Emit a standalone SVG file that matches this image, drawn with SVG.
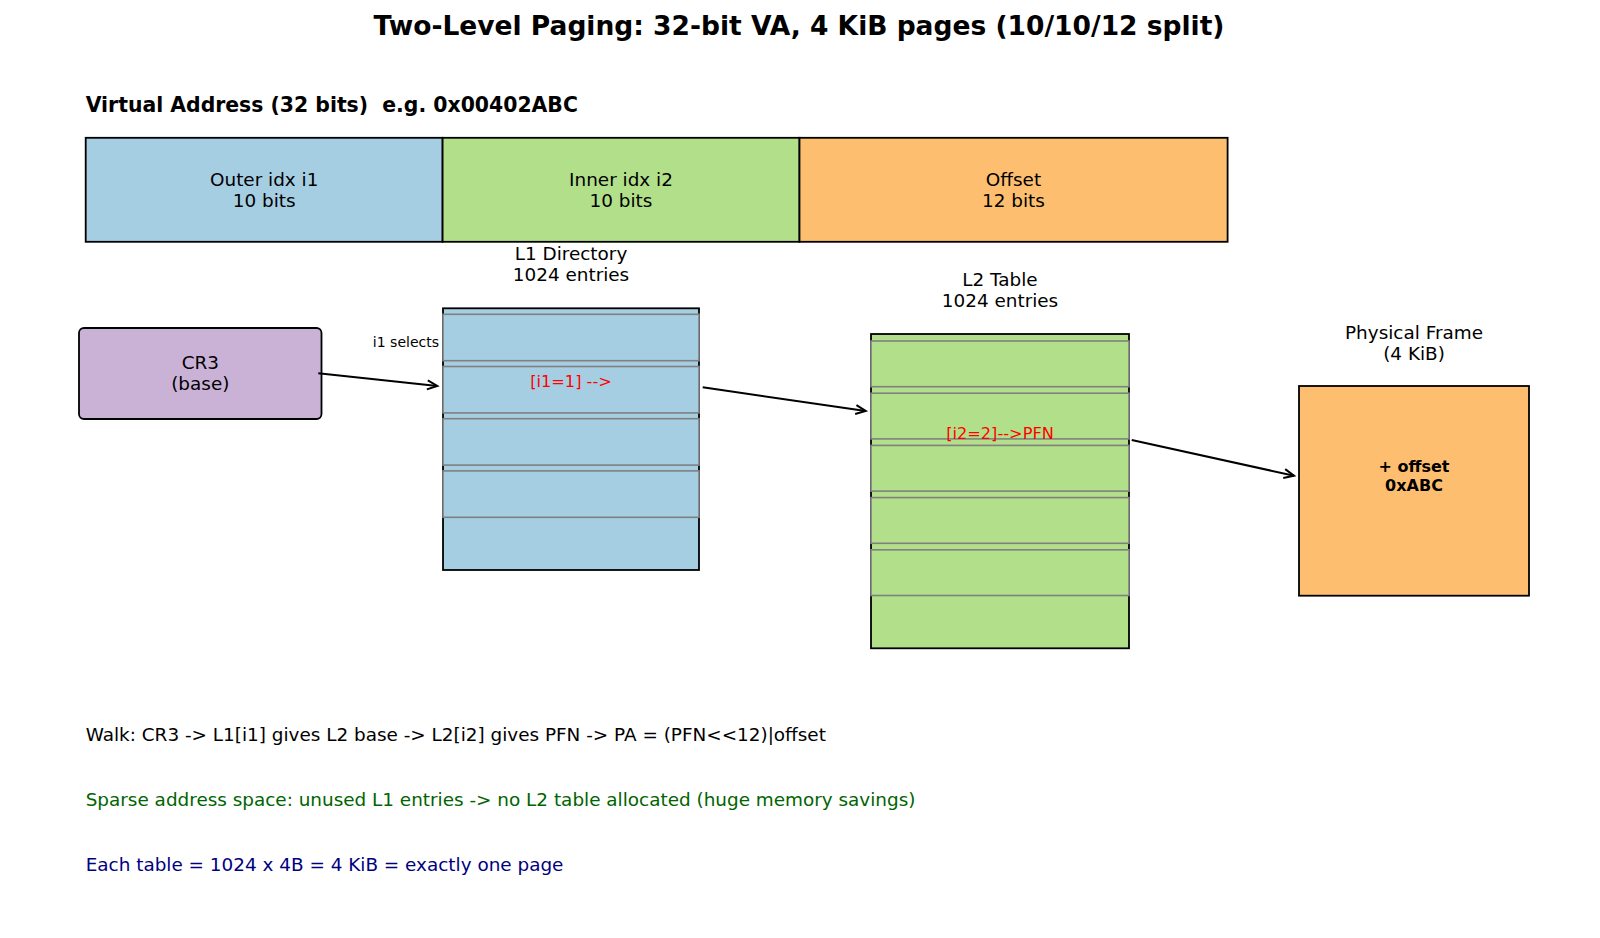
<svg xmlns="http://www.w3.org/2000/svg" width="1600" height="938" viewBox="0 0 1600 938">
<style>
text{font-family:"DejaVu Sans","Liberation Sans",sans-serif;fill:#000}
.t{font-size:26.5px;font-weight:bold}
.h{font-size:20.4px;font-weight:bold;white-space:pre}
.b{font-size:18.4px}
.r{font-size:16.2px;fill:#ff0000}
.s{font-size:14px}
.m{text-anchor:middle}
.ob{stroke:#000;stroke-width:1.8}
.row{stroke:#808080;stroke-width:1.6}
.blue{fill:#a6cee3}
.green{fill:#b2df8a}
.orange{fill:#fdbf6f}
.purple{fill:#cab2d6}
.conn{stroke:#000;stroke-width:2;fill:none}
</style>
<defs>
<marker id="ah" markerUnits="userSpaceOnUse" markerWidth="14" markerHeight="12" viewBox="-12 -6 14 12" refX="0" refY="0" orient="auto" overflow="visible">
<path d="M-10,-4.5 L0,0 L-10,4.5" fill="none" stroke="#000" stroke-width="2"/>
</marker>
</defs>
<rect width="1600" height="938" fill="#fff"/>
<text class="t m" x="799" y="35">Two-Level Paging: 32-bit VA, 4 KiB pages (10/10/12 split)</text>
<text class="h" x="85.7" y="112" xml:space="preserve">Virtual Address (32 bits)  e.g. 0x00402ABC</text>

<g id="va-outer">
<rect class="blue ob" x="85.7" y="137.8" width="356.9" height="104"/>
<text class="b m" x="264.2" y="186">Outer idx i1</text>
<text class="b m" x="264.2" y="207">10 bits</text>
</g>
<g id="va-inner">
<rect class="green ob" x="442.6" y="137.8" width="356.9" height="104"/>
<text class="b m" x="621" y="186">Inner idx i2</text>
<text class="b m" x="621" y="207">10 bits</text>
</g>
<g id="va-offset">
<rect class="orange ob" x="799.5" y="137.8" width="428.1" height="104"/>
<text class="b m" x="1013.5" y="186">Offset</text>
<text class="b m" x="1013.5" y="207">12 bits</text>
</g>

<g id="cr3">
<rect class="purple ob" x="79" y="328" width="242.5" height="91" rx="5"/>
<text class="b m" x="200.3" y="369">CR3</text>
<text class="b m" x="200.3" y="390">(base)</text>
</g>

<g id="l1">
<text class="b m" x="571" y="260.3">L1 Directory</text>
<text class="b m" x="571" y="281.3">1024 entries</text>
<rect class="blue ob" x="443" y="308.3" width="256" height="261.7"/>
<rect class="blue row" x="443" y="314.3" width="256" height="46.4"/>
<rect class="blue row" x="443" y="366.5" width="256" height="46.4"/>
<rect class="blue row" x="443" y="418.7" width="256" height="46.4"/>
<rect class="blue row" x="443" y="470.9" width="256" height="46.4"/>
<text class="r m" x="571" y="387">[i1=1] --&gt;</text>
</g>

<g id="l2">
<text class="b m" x="1000" y="285.7">L2 Table</text>
<text class="b m" x="1000" y="306.7">1024 entries</text>
<rect class="green ob" x="871" y="334" width="258" height="314.3"/>
<rect class="green row" x="871" y="341" width="258" height="45.7"/>
<rect class="green row" x="871" y="393.2" width="258" height="45.7"/>
<rect class="green row" x="871" y="445.4" width="258" height="45.7"/>
<rect class="green row" x="871" y="497.6" width="258" height="45.7"/>
<rect class="green row" x="871" y="549.8" width="258" height="45.7"/>
<text class="r m" x="1000" y="438.5">[i2=2]--&gt;PFN</text>
</g>

<g id="frame">
<text class="b m" x="1414" y="339.3">Physical Frame</text>
<text class="b m" x="1414" y="360.3">(4 KiB)</text>
<rect class="orange ob" x="1299" y="386" width="230" height="209.7"/>
<text class="m" x="1414" y="471.7" style="font-size:16px;font-weight:bold">+ offset</text>
<text class="m" x="1414" y="491" style="font-size:16px;font-weight:bold">0xABC</text>
</g>

<g id="connectors">
<path class="conn" d="M318.3,373.3 L437.3,386" marker-end="url(#ah)"/>
<text class="s" x="439" y="347" text-anchor="end">i1 selects</text>
<path class="conn" d="M702.7,387.3 L865.7,411" marker-end="url(#ah)"/>
<path class="conn" d="M1131.7,440 L1294,475.7" marker-end="url(#ah)"/>
</g>

<text class="b" x="85.7" y="741">Walk: CR3 -&gt; L1[i1] gives L2 base -&gt; L2[i2] gives PFN -&gt; PA = (PFN&lt;&lt;12)|offset</text>
<text class="b" x="85.7" y="806" style="fill:#006400">Sparse address space: unused L1 entries -&gt; no L2 table allocated (huge memory savings)</text>
<text class="b" x="85.7" y="870.7" style="fill:#000080">Each table = 1024 x 4B = 4 KiB = exactly one page</text>
</svg>
